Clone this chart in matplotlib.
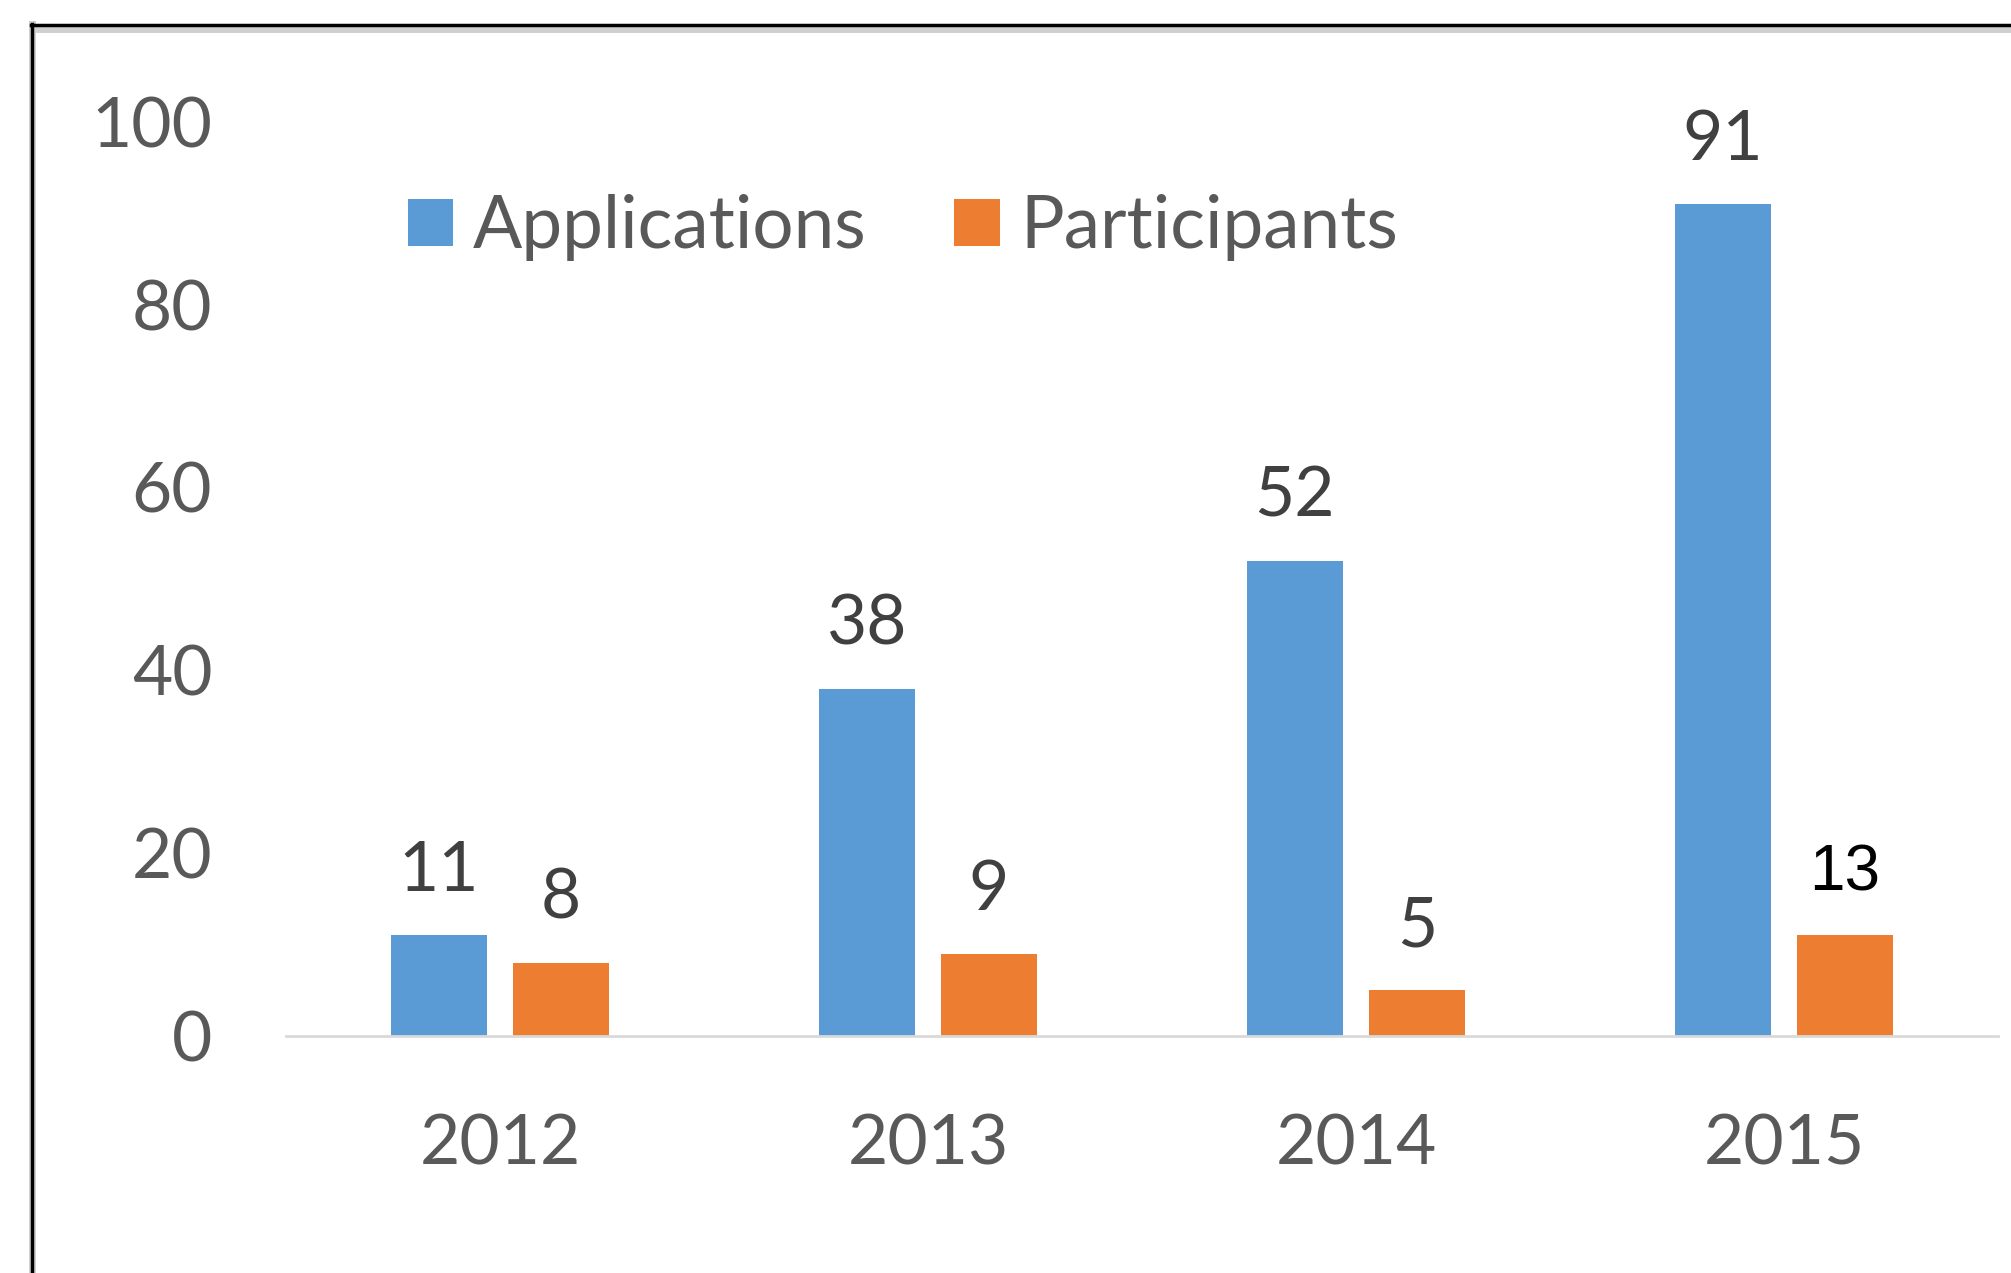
import matplotlib
matplotlib.use("Agg")
import matplotlib.pyplot as plt
import numpy as np
from matplotlib.lines import Line2D

# ---------------------------------------------------------------------------
# Data
# ---------------------------------------------------------------------------
years = ["2012", "2013", "2014", "2015"]
applications = [11, 38, 52, 91]
participants = [8, 9, 5, 11]
participant_labels = ["8", "9", "5", "13"]   # last label was typed over in the source
y_ticks = [0, 20, 40, 60, 80, 100]

BLUE = "#5B9BD5"
ORANGE = "#ED7D31"
GREY = "#595959"
DARK = "#404040"

plt.rcParams["font.family"] = ["Lato", "DejaVu Sans"]

fig = plt.figure(figsize=(20.11, 12.73), dpi=100)
ax = fig.add_axes([0.1422, 0.1862, 0.8513, 0.7181])

x = np.arange(len(years))
w = 0.225
off = (w + 0.06) / 2
b1 = ax.bar(x - off, applications, w, color=BLUE, label="Applications")
b2 = ax.bar(x + off, participants, w, color=ORANGE, label="Participants")

ax.bar_label(b1, labels=[str(v) for v in applications], padding=23, fontsize=50, color=DARK)
t2 = ax.bar_label(b2, labels=participant_labels, padding=23, fontsize=50, color=DARK)
t2[-1].set_color("black")
t2[-1].set_fontfamily(["Liberation Sans", "DejaVu Sans"])
t2[-1].set_fontsize(46)

ax.set_xlim(-0.5, 3.5)
ax.set_ylim(0, 100)
ax.set_yticks(y_ticks)
ax.set_xticks(x)
ax.set_xticklabels(years)
ax.tick_params(axis="y", length=0, pad=53, labelsize=50, labelcolor=GREY)
ax.tick_params(axis="x", length=0, pad=56, labelsize=50, labelcolor=GREY)
for s in ("top", "right", "left"):
    ax.spines[s].set_visible(False)
ax.spines["bottom"].set_color("#D9D9D9")
ax.spines["bottom"].set_linewidth(2)

ax.legend(loc="center left", bbox_to_anchor=(0.071, 0.884), ncol=2, frameon=False,
          fontsize=52.5, labelcolor=GREY, handlelength=0.62, handleheight=0.62,
          handletextpad=0.28, columnspacing=1.2, borderpad=0, borderaxespad=0)

# black frame with a soft grey inner edge (top and left only, rest is cropped)
W, H = 2011, 1273
fig.add_artist(Line2D([32 / W, 32 / W], [0, 1 - 24 / H], color="#D0D0D0", lw=5,
                      transform=fig.transFigure))
fig.add_artist(Line2D([32 / W, 1], [1 - 29 / H, 1 - 29 / H], color="#D0D0D0", lw=5,
                      transform=fig.transFigure))
fig.add_artist(Line2D([32 / W, 32 / W], [0, 1 - 24 / H], color="black", lw=2.5,
                      transform=fig.transFigure))
fig.add_artist(Line2D([31 / W, 1], [1 - 25 / H, 1 - 25 / H], color="black", lw=2.5,
                      transform=fig.transFigure))

fig.savefig("out.png", dpi=100)
